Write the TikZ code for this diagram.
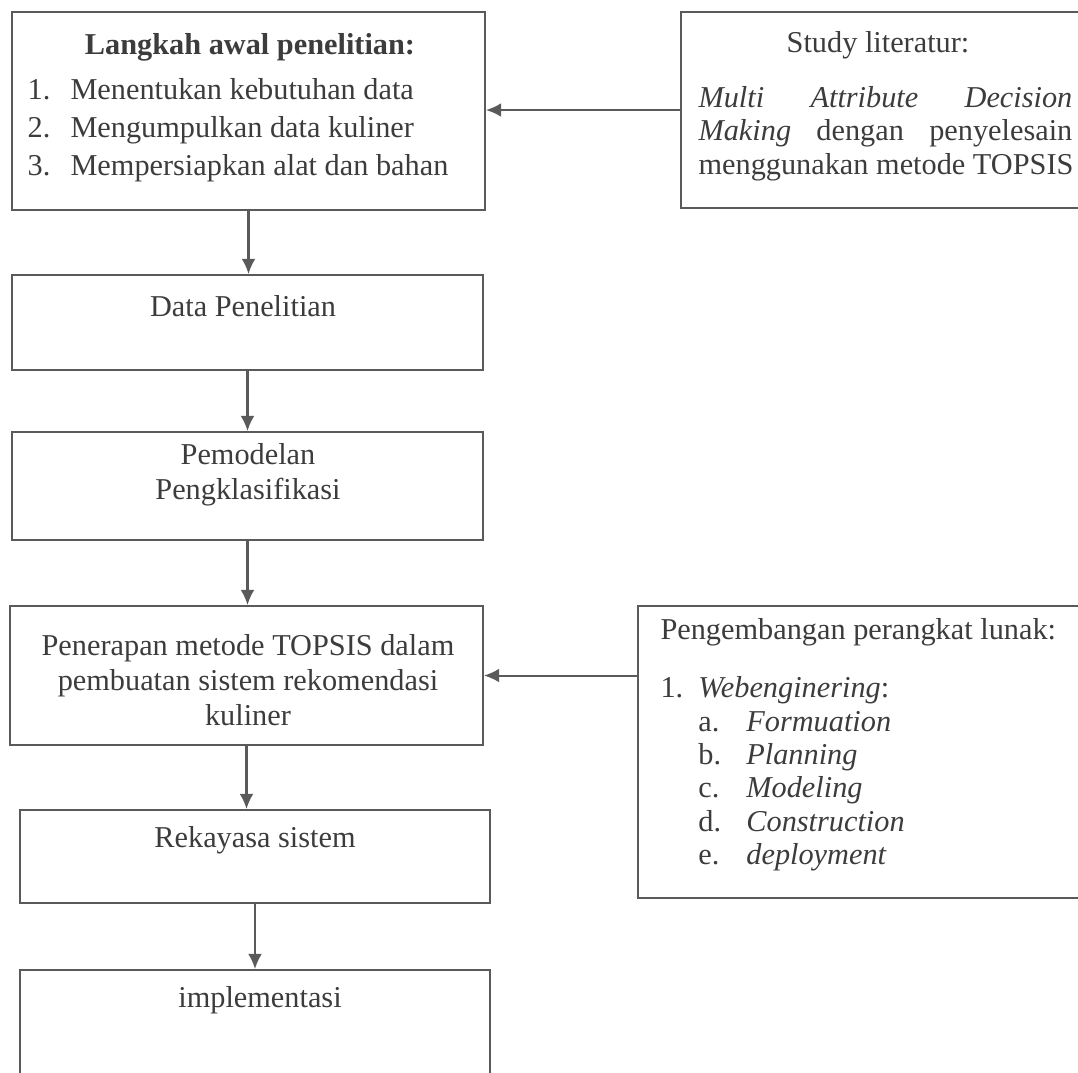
\documentclass[tikz,border=0pt]{standalone}
\usepackage{fontspec}
\setmainfont{Liberation Serif}
\definecolor{scanline}{RGB}{90,90,90}
\definecolor{scanink}{RGB}{60,60,60}
\usetikzlibrary{arrows.meta,positioning,fit}

\begin{document}
\begin{tikzpicture}[x=0.013915cm, y=-0.013915cm,
  every node/.style={font=\fontsize{12}{14.5}\selectfont, text=scanink, inner sep=0pt},
  box/.style={draw=scanline, line width=0.8pt, inner sep=0pt},
  flow/.style={-{Latex[length=6pt,width=5.5pt]}, scanline, line width=0.8pt},
]
\useasboundingbox (0,0) rectangle (1078,1072);
\clip (0,0) rectangle (1078,1072);

% Boxes
\node[box, fit={(12,12) (485,210)}] (awal) {};
\node[box, fit={(681,12) (1090,208)}] (lit) {};
\node[box, fit={(12,275) (483,370)}] (data) {};
\node[box, fit={(12,432) (483,540)}] (model) {};
\node[box, fit={(10,606) (483,745)}] (topsis) {};
\node[box, fit={(638,606) (1090,898)}] (pl) {};
\node[box, fit={(20,810) (490,903)}] (rekayasa) {};
\node[box, fit={(20,970) (490,1090)}] (impl) {};

% Texts
\node (awaltitle) at (250,47) {\textbf{Langkah awal penelitian:}};
\node (awallist) at (238,130) {\renewcommand{\arraystretch}{1.03}%
\begin{tabular}{@{}l@{\hspace{8pt}}l@{}}
  1. & Menentukan kebutuhan data\\
  2. & Mengumpulkan data kuliner\\
  3. & Mempersiapkan alat dan bahan
\end{tabular}};

\node (littitle) at (878,45) {Study literatur:};
\node (littext) at (886,134) {\renewcommand{\arraystretch}{0.92}%
\begin{tabular}{@{}l@{}}
  \makebox[148pt][s]{\textit{Multi} \textit{Attribute} \textit{Decision}}\\
  \makebox[148pt][s]{\textit{Making} dengan penyelesain}\\
  menggunakan metode TOPSIS
\end{tabular}};

\node (datatext) at (243,306) {Data Penelitian};
\node[align=center, font=\fontsize{12}{13.9}\selectfont] (modeltext) at (248,475)
  {Pemodelan\\Pengklasifikasi};
\node[align=center, font=\fontsize{12}{13.9}\selectfont] (topsistext) at (248,680)
  {Penerapan metode TOPSIS dalam\\pembuatan sistem rekomendasi\\kuliner};

\node[anchor=west] (pltitle) at (660,632) {Pengembangan perangkat lunak:};
\node[anchor=north west] (pllist) at (660,674) {\renewcommand{\arraystretch}{0.91}%
\begin{tabular}{@{}p{15pt}@{}p{19pt}@{}l@{}}
  1. & \multicolumn{2}{@{}l@{}}{\textit{Webenginering}:}\\
   & a. & \textit{Formuation}\\
   & b. & \textit{Planning}\\
   & c. & \textit{Modeling}\\
   & d. & \textit{Construction}\\
   & e. & \textit{deployment}
\end{tabular}};

\node (rekayasatext) at (255,840) {Rekayasa sistem};
\node (impltext) at (260,1000) {implementasi};

% Arrows
\foreach \a/\b in {awal/data, data/model, model/topsis, topsis/rekayasa, rekayasa/impl}
  \draw[flow] (\a.south) -- (\a.south |- \b.north);
\draw[flow] (lit.west) -- (lit.west -| awal.east);
\draw[flow] (topsis.east -| pl.west) -- (topsis.east);

\end{tikzpicture}
\end{document}
